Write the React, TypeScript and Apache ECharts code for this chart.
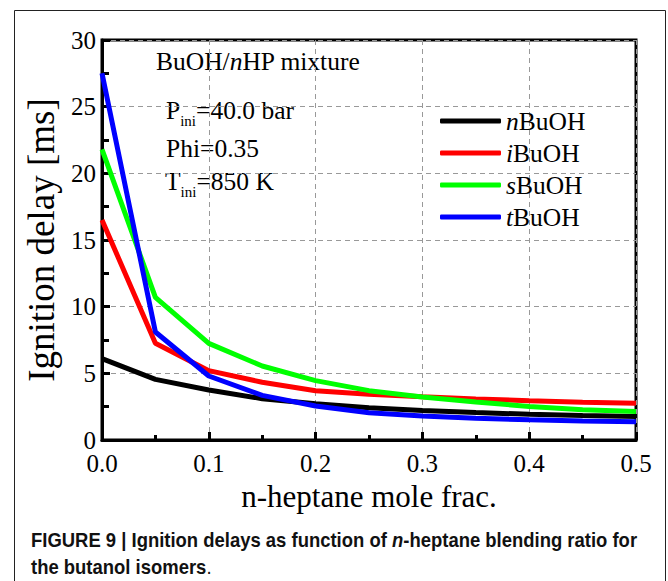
import React, { useEffect, useRef } from "react";
import * as echarts from "echarts";

const xValues = [0, 0.05, 0.1, 0.15, 0.2, 0.25, 0.3, 0.35, 0.4, 0.45, 0.5];
const nBuOH = [6.1, 4.55, 3.75, 3.1, 2.72, 2.42, 2.22, 2.06, 1.93, 1.83, 1.76];
const iBuOH = [16.5, 7.25, 5.2, 4.33, 3.7, 3.43, 3.25, 3.08, 2.95, 2.84, 2.76];
const sBuOH = [21.8, 10.7, 7.25, 5.55, 4.45, 3.7, 3.22, 2.85, 2.52, 2.27, 2.13];
const tBuOH = [27.5, 8.1, 4.8, 3.35, 2.55, 2.05, 1.8, 1.63, 1.52, 1.43, 1.36];

const seriesNames = ["nBuOH", "iBuOH", "sBuOH", "tBuOH"];
const seriesValues = [nBuOH, iBuOH, sBuOH, tBuOH];
const seriesColors = ["#000000", "#ff0000", "#00ff00", "#0000ff"];

const SERIF = "'Liberation Serif', 'Times New Roman', serif";
const SANS = "'Liberation Sans', Arial, sans-serif";

export default function App() {
  const ref = useRef<HTMLDivElement>(null);
  useEffect(() => {
    if (!ref.current) return;
    const chart = echarts.init(ref.current, undefined, { renderer: "svg" });
    const fs = 25.5;
    const sub = 15;
    const capFs = 21;
    const capScale = 0.879;
    const txt = (x: number, baseline: number, text: string, size: number, italic = false) => ({
      type: "text",
      x,
      y: baseline - size * 0.33,
      style: {
        text,
        fill: "#000",
        font: `${italic ? "italic " : ""}${size}px ${SERIF}`,
        verticalAlign: "middle",
        align: "left",
      },
    });
    chart.setOption({
      animation: false,
      backgroundColor: "#fff",
      grid: {
        left: 102,
        right: 32,
        top: 40,
        bottom: 141,
        show: true,
        borderColor: "#000",
        borderWidth: 3,
      },
      xAxis: {
        type: "value",
        min: 0,
        max: 0.5,
        interval: 0.1,
        name: "n-heptane mole frac.",
        nameLocation: "middle",
        nameGap: 25,
        nameTextStyle: { fontFamily: SERIF, fontSize: 31, color: "#000" },
        axisLine: { show: true, lineStyle: { color: "#000", width: 3 } },
        axisTick: { show: true, inside: true, length: 8, lineStyle: { color: "#000", width: 3 } },
        minorTick: { show: true, splitNumber: 2, length: 5, lineStyle: { color: "#000", width: 3 } },
        axisLabel: {
          fontFamily: SERIF,
          fontSize: 25,
          color: "#000",
          margin: 11,
          formatter: (v: number) => v.toFixed(1),
        },
        splitLine: { show: true, lineStyle: { color: "#999", type: [5, 4], width: 1 } },
      },
      yAxis: {
        type: "value",
        min: 0,
        max: 30,
        interval: 5,
        name: "Ignition delay [ms]",
        nameLocation: "middle",
        nameGap: 37,
        nameTextStyle: { fontFamily: SERIF, fontSize: 37, color: "#000" },
        axisLine: { show: true, lineStyle: { color: "#000", width: 3 } },
        axisTick: { show: true, inside: true, length: 8, lineStyle: { color: "#000", width: 3 } },
        minorTick: { show: true, splitNumber: 2, length: 7, lineStyle: { color: "#000", width: 3 } },
        axisLabel: { fontFamily: SERIF, fontSize: 25, color: "#000", margin: 6, lineHeight: 22 },
        splitLine: { show: true, lineStyle: { color: "#999", type: [5, 4], width: 1 } },
      },
      legend: {
        orient: "vertical",
        left: 440,
        top: 108,
        padding: 0,
        itemWidth: 61,
        itemHeight: 5,
        itemGap: 6,
        icon: "roundRect",
        data: seriesNames,
        formatter: (name: string) => `{i|${name.charAt(0)}}{r|${name.slice(1)}}`,
        textStyle: {
          fontFamily: SERIF,
          fontSize: fs,
          color: "#000",
          lineHeight: 26,
          rich: {
            i: { fontFamily: SERIF, fontSize: fs, fontStyle: "italic", color: "#000", lineHeight: 26 },
            r: { fontFamily: SERIF, fontSize: fs, color: "#000", lineHeight: 26 },
          },
        },
      },
      series: seriesNames.map((name, k) => ({
        name,
        type: "line",
        symbol: "none",
        data: xValues.map((x, i) => [x, seriesValues[k][i]]),
        lineStyle: { color: seriesColors[k], width: 5 },
        itemStyle: { color: seriesColors[k] },
      })),
      graphic: [
        {
          type: "rect",
          shape: { x: 14.5, y: 10.5, width: 651, height: 620 },
          style: { fill: "none", stroke: "#222", lineWidth: 1 },
          silent: true,
        },
        txt(156, 70, "BuOH/", fs),
        txt(156 + 2.889 * fs, 70, "n", fs, true),
        txt(156 + 3.389 * fs, 70, "HP mixture", fs),
        txt(166, 119, "P", fs),
        txt(166 + 0.556 * fs, 126, "ini", sub),
        txt(166 + 0.556 * fs + 1.056 * sub, 119, "=40.0 bar", fs),
        txt(166, 157, "Phi=0.35", fs),
        txt(165, 190, "T", fs),
        txt(165 + 0.611 * fs, 197, "ini", sub),
        txt(165 + 0.611 * fs + 1.056 * sub, 190, "=850 K", fs),
        {
          type: "text",
          x: 31,
          y: 540,
          scaleX: capScale,
          style: {
            text: "{b|FIGURE 9 | Ignition delays as function of }{bi|n}{b|-heptane blending ratio for}",
            verticalAlign: "middle",
            align: "left",
            rich: {
              b: { fontFamily: SANS, fontWeight: "bold", fontSize: capFs, fill: "#111" },
              bi: { fontFamily: SANS, fontWeight: "bold", fontStyle: "italic", fontSize: capFs, fill: "#111" },
            },
          },
        },
        {
          type: "text",
          x: 31,
          y: 567,
          scaleX: capScale,
          style: {
            text: "{b|the butanol isomers}{r|.}",
            verticalAlign: "middle",
            align: "left",
            rich: {
              b: { fontFamily: SANS, fontWeight: "bold", fontSize: capFs, fill: "#111" },
              r: { fontFamily: SANS, fontSize: capFs, fill: "#111" },
            },
          },
        },
      ],
    });
    return () => chart.dispose();
  }, []);
  return (
    <div
      ref={ref}
      style={{ position: "fixed", left: 0, top: 0, width: 668, height: 581, background: "#fff" }}
    />
  );
}
